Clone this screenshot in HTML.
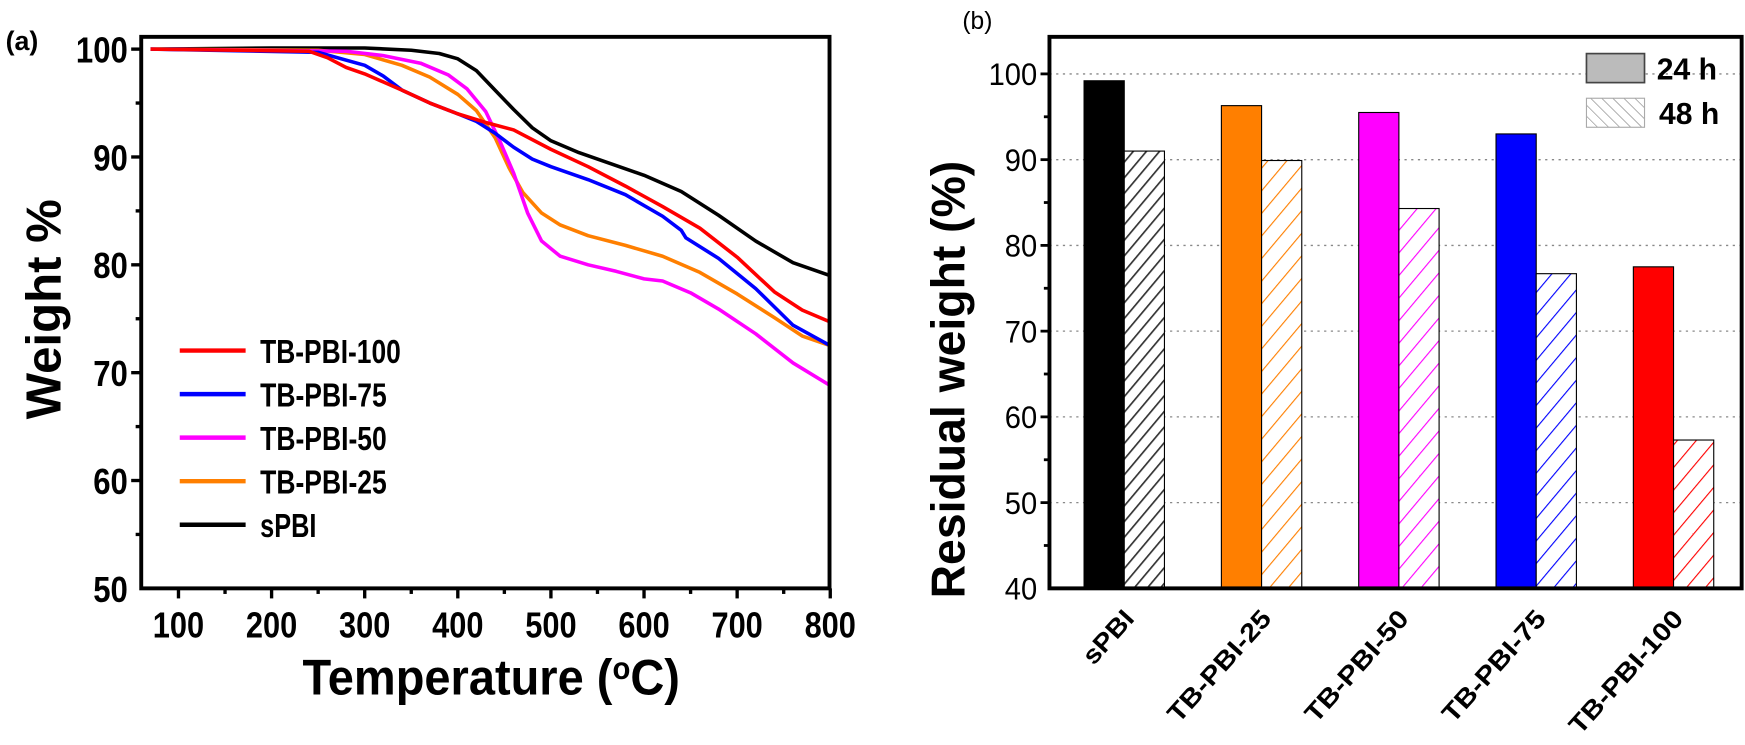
<!DOCTYPE html>
<html><head><meta charset="utf-8"><style>
html,body{margin:0;padding:0;background:#fff;overflow:hidden;}
svg{display:block;font-family:"Liberation Sans",Arial,sans-serif;}
</style></head><body>
<svg id="fig" width="1745" height="745" viewBox="0 0 1563 667.3" xmlns="http://www.w3.org/2000/svg">
<defs>
<pattern id="h-black" width="9" height="9" patternUnits="userSpaceOnUse" patternTransform="rotate(40)"><rect width="9" height="9" fill="#fff"/><line x1="0" y1="0" x2="0" y2="9" stroke="#333" stroke-width="3"/></pattern>
<pattern id="h-orange" width="13" height="13" patternUnits="userSpaceOnUse" patternTransform="rotate(40)"><rect width="13" height="13" fill="#fff"/><line x1="0" y1="0" x2="0" y2="13" stroke="#ff7f00" stroke-width="2"/></pattern>
<pattern id="h-magenta" width="13" height="13" patternUnits="userSpaceOnUse" patternTransform="rotate(40)"><rect width="13" height="13" fill="#fff"/><line x1="0" y1="0" x2="0" y2="13" stroke="#ff00ff" stroke-width="2"/></pattern>
<pattern id="h-blue" width="13" height="13" patternUnits="userSpaceOnUse" patternTransform="rotate(40)"><rect width="13" height="13" fill="#fff"/><line x1="0" y1="0" x2="0" y2="13" stroke="#0000ff" stroke-width="2"/></pattern>
<pattern id="h-red" width="13" height="13" patternUnits="userSpaceOnUse" patternTransform="rotate(40)"><rect width="13" height="13" fill="#fff"/><line x1="0" y1="0" x2="0" y2="13" stroke="#ff0000" stroke-width="2"/></pattern>
<pattern id="h-gray" width="7" height="7" patternUnits="userSpaceOnUse" patternTransform="rotate(-45)"><rect width="7" height="7" fill="#fff"/><line x1="0" y1="0" x2="0" y2="7" stroke="#777" stroke-width="1"/></pattern>
</defs>
<g id="left"></g>
<g id="right"></g>
</svg>
<script>
const NS="http://www.w3.org/2000/svg";
// ---- Left chart data (TGA) ----
const tgaNames=["TB-PBI-100","TB-PBI-75","TB-PBI-50","TB-PBI-25","sPBI"];
const tgaColors=["#ff0000","#0000ff","#ff00ff","#ff7f00","#000000"];
const tSPBI=[70,200,300,350,380,400,420,440,460,480,500,530,560,600,640,680,720,760,800];
const wSPBI=[100,100.1,100.1,99.9,99.6,99.1,98,96.2,94.4,92.7,91.5,90.4,89.5,88.3,86.8,84.6,82.2,80.2,79.0];
const tP100=[70,240,260,280,300,340,370,400,430,460,500,540,580,620,660,700,740,770,800];
const wP100=[100,99.8,99.2,98.3,97.7,96.2,95,94,93.2,92.5,90.7,89.1,87.3,85.4,83.4,80.7,77.5,75.8,74.7];
const tP75=[70,250,300,320,340,370,400,420,440,460,480,500,540,580,620,640,645,680,720,760,800];
const wP75=[100,99.7,98.5,97.5,96.2,95,94,93.3,92.2,90.9,89.8,89.1,87.9,86.5,84.5,83.2,82.5,80.6,77.8,74.4,72.5];
const tP50=[70,280,320,360,390,410,430,445,460,475,490,510,540,570,600,620,650,680,720,760,800];
const wP50=[100,99.8,99.4,98.7,97.6,96.3,94.2,91.5,88.5,84.8,82.2,80.8,80,79.4,78.7,78.5,77.4,75.9,73.6,70.9,68.8];
const tP25=[70,250,300,340,370,400,420,440,455,470,490,510,540,580,620,660,700,740,770,800];
const wP25=[100,99.9,99.5,98.5,97.4,95.8,94.3,91.8,89,86.7,84.8,83.7,82.7,81.8,80.8,79.3,77.3,75.1,73.4,72.5];
const xTicks=[100,200,300,400,500,600,700,800];
const yTicksL=[50,60,70,80,90,100];
// ---- Right chart data ----
const cats=["sPBI","TB-PBI-25","TB-PBI-50","TB-PBI-75","TB-PBI-100"];
const v24=[99.2,96.3,95.5,93.0,77.5];
const v48=[91.0,89.9,84.3,76.7,57.3];
const yTicksR=[40,50,60,70,80,90,100];

function el(tag,attrs,parent,text){const e=document.createElementNS(NS,tag);for(const k in attrs)e.setAttribute(k,attrs[k]);if(text!==undefined)e.textContent=text;parent.appendChild(e);return e;}

// ===== Left =====
const L=document.getElementById('left');
const lx0=126.5,lx1=743,ly0=33,ly1=527;
const X=t=>lx0+(t-60)*0.834;
const Y=w=>ly1-(w-50)*9.66;
const series=[[tP100,wP100],[tP75,wP75],[tP50,wP50],[tP25,wP25],[tSPBI,wSPBI]];
[4,3,2,1,0].forEach(i=>{
  const [ts,ws]=series[i];
  const d=ts.map((t,j)=>(j?'L':'M')+X(t).toFixed(1)+','+Y(ws[j]).toFixed(1)).join(' ');
  const p=el('path',{d:d,fill:'none',stroke:tgaColors[i],'stroke-width':3.2,'stroke-linejoin':'round'},L);
  
  
});
el('rect',{x:lx0,y:ly0,width:lx1-lx0,height:ly1-ly0,fill:'none',stroke:'#000','stroke-width':3.5,},L);
for(let t=100;t<=800;t+=50){const maj=t%100===0;el('line',{x1:X(t),x2:X(t),y1:ly1,y2:ly1+(maj?9:5),stroke:'#000','stroke-width':3},L);}
for(let w=55;w<=100;w+=5){const maj=w%10===0;el('line',{x1:lx0,x2:lx0-(maj?9:5),y1:Y(w),y2:Y(w),stroke:'#000','stroke-width':3},L);}
xTicks.forEach(t=>{const e=el('text',{x:X(t),y:ly1+44,'text-anchor':'middle','font-size':32,'font-weight':'bold',textLength:46,lengthAdjust:'spacingAndGlyphs'},L,String(t));
  });
yTicksL.forEach(w=>{const s=String(w);const e=el('text',{x:lx0-12,y:Y(w)+12,'text-anchor':'end','font-size':32,'font-weight':'bold',textLength:s.length*15.5,lengthAdjust:'spacingAndGlyphs'},L,s);
  });
el('text',{x:5,y:45,'font-size':24,'font-weight':'bold',},L,'(a)');
const xt=el('text',{x:440,y:622,'text-anchor':'middle','font-size':45,'font-weight':'bold',textLength:338,lengthAdjust:'spacingAndGlyphs',},L);
xt.innerHTML='Temperature (<tspan dy="-14" font-size="28">o</tspan><tspan dy="14">C)</tspan>';
el('text',{x:0,y:0,transform:'translate(54,277) rotate(-90)','text-anchor':'middle','font-size':44,'font-weight':'bold',},L,'Weight %');
const legY=[314,353,392,431,470];
tgaNames.forEach((n,i)=>{
  const g=el('g',{},L);
  
  
  el('line',{x1:161,x2:220,y1:legY[i],y2:legY[i],stroke:tgaColors[i],'stroke-width':4},g);
  el('text',{x:233,y:legY[i]+11,'font-size':30,'font-weight':'bold',textLength:n.length*12.6,lengthAdjust:'spacingAndGlyphs'},g,n);
});

// ===== Right =====
const R=document.getElementById('right');
const rx0=940,rx1=1560,ry0=33,ry1=527;
const RY=v=>ry1-(v-40)*7.68;
const GX=i=>1007+i*123;
const bw=36;
yTicksR.forEach(v=>{if(v>40)el('line',{x1:rx0,x2:rx1,y1:RY(v),y2:RY(v),stroke:'#888','stroke-width':1.2,'stroke-dasharray':'2 4'},R);});
const fills24=['#000000','#ff7f00','#ff00ff','#0000ff','#ff0000'];
const fills48=['url(#h-black)','url(#h-orange)','url(#h-magenta)','url(#h-blue)','url(#h-red)'];
cats.forEach((c,i)=>{
  const b1=el('rect',{x:GX(i)-bw,y:RY(v24[i]),width:bw,height:RY(40)-RY(v24[i]),fill:fills24[i],stroke:'#000','stroke-width':1},R);
  
  
  const b2=el('rect',{x:GX(i),y:RY(v48[i]),width:bw,height:RY(40)-RY(v48[i]),fill:fills48[i],stroke:'#000','stroke-width':1},R);
  
  
  const t=el('text',{x:0,y:0,transform:`translate(${GX(i)+10},${ry1+28}) rotate(-48)`,'text-anchor':'end','font-size':23,'font-weight':'bold',textLength:c.length*14,lengthAdjust:'spacingAndGlyphs'},R,c);
  
  
});
el('rect',{x:rx0,y:ry0,width:rx1-rx0,height:ry1-ry0,fill:'none',stroke:'#000','stroke-width':3.5,},R);
for(let v=45;v<=100;v+=5){const maj=v%10===0;el('line',{x1:rx0,x2:rx0-(maj?8:5),y1:RY(v),y2:RY(v),stroke:'#000','stroke-width':2.5},R);}
yTicksR.forEach(v=>{const s=String(v);const e=el('text',{x:rx0-11,y:RY(v)+10,'text-anchor':'end','font-size':28,textLength:s.length*14.5,lengthAdjust:'spacingAndGlyphs'},R,s);
  });
el('text',{x:0,y:0,transform:'translate(864,340) rotate(-90)','text-anchor':'middle','font-size':42,'font-weight':'bold',textLength:392,lengthAdjust:'spacingAndGlyphs',},R,'Residual weight (%)');
el('text',{x:862,y:26,'font-size':22,},R,'(b)');
const lg1=el('g',{},R);
el('rect',{x:1421,y:48,width:52,height:26,fill:'#bbb',stroke:'#444','stroke-width':1.5},lg1);
el('text',{x:1484,y:71,'font-size':27,'font-weight':'bold'},lg1,'24 h');
const lg2=el('g',{},R);
el('rect',{x:1421,y:88,width:52,height:26,fill:'url(#h-gray)',stroke:'#aaa','stroke-width':1},lg2);
el('text',{x:1486,y:111,'font-size':27,'font-weight':'bold'},lg2,'48 h');
</script>
</body></html>
